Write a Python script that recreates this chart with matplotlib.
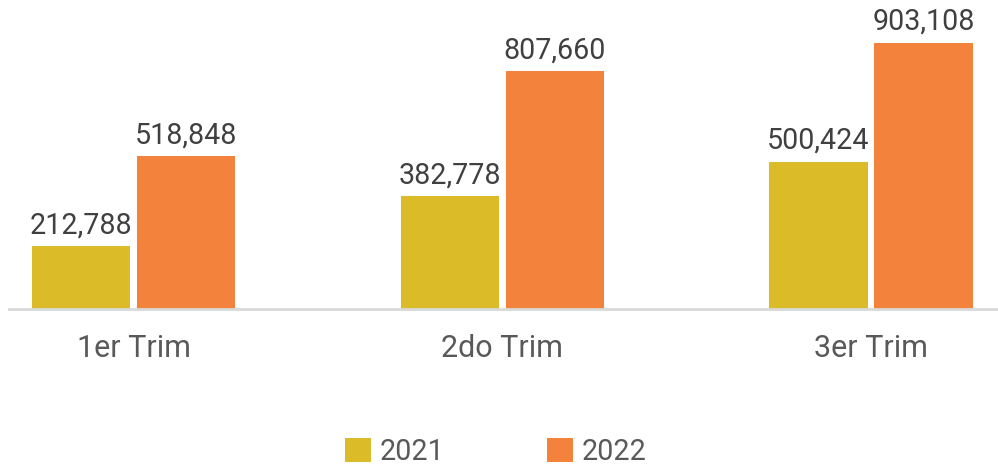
import numpy as np
import matplotlib
matplotlib.use("Agg")
import matplotlib.pyplot as plt

categories = ["1er Trim", "2do Trim", "3er Trim"]
series_names = ["2021", "2022"]
values_2021 = [212788, 382778, 500424]
values_2022 = [518848, 807660, 903108]

COLORS = ["#DBBB27", "#F2823C"]
plt.rcParams["font.family"] = ["Roboto", "DejaVu Sans"]

fig = plt.figure(figsize=(9.98, 4.68), dpi=100)
ax = fig.add_axes([9 / 998, 1 - 309 / 468, 989 / 998, 294.5 / 468])

x = np.arange(len(categories))
w, off = 0.266, 0.1424
for vals, name, col, dx in zip([values_2021, values_2022], series_names, COLORS, [-off, off]):
    bars = ax.bar(x + dx, vals, width=w, color=col, label=name)
    for b, v in zip(bars, vals):
        ax.annotate(f"{v:,}", (b.get_x() + b.get_width() / 2, v),
                    xytext=(0, 5), textcoords="offset points",
                    ha="center", va="bottom", fontsize=20.6, color="#404040")

ax.set_xlim(-124.5 / 368.75, (998 - 133.5) / 368.75)
ax.set_ylim(0, 1_000_000)
ax.set_yticks([])
ax.set_xticks(x, categories, fontsize=22, color="#595959")
ax.tick_params(axis="x", length=0, pad=18)
for s in ["top", "right", "left"]:
    ax.spines[s].set_visible(False)
ax.spines["bottom"].set_color("#D9D9D9")
ax.spines["bottom"].set_linewidth(2)

leg = fig.legend(loc="center", bbox_to_anchor=(0.497, 1 - 452 / 468), ncol=2,
                 frameon=False, fontsize=20.6, handlelength=0.9, handleheight=0.9,
                 handletextpad=0.3, columnspacing=3.6, borderpad=0.2)
for t in leg.get_texts():
    t.set_color("#595959")

fig.savefig("out.png", dpi=100)
